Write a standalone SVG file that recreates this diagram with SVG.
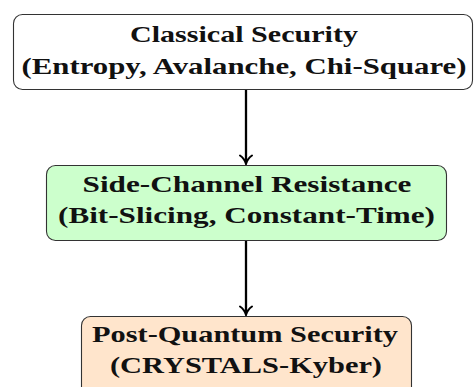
<svg xmlns="http://www.w3.org/2000/svg" width="475" height="387" viewBox="0 0 475 387">
<style>
.box{stroke:#333;stroke-width:1.1}
.t{font-family:"Liberation Serif","DejaVu Serif",serif;font-weight:bold;font-size:23px;fill:#111;text-anchor:middle}
.c{stroke:#000;stroke-width:2.3;fill:none}
.h{stroke:#000;stroke-width:2;fill:none;stroke-linecap:round}
</style>
<g id="connectors">
<path class="c" d="M246,90 V163"/>
<path class="h" d="M240,155.5 Q244.5,158.5 246,164 Q247.5,158.5 252,155.5"/>
<path class="c" d="M246,241 V314"/>
<path class="h" d="M240,306.5 Q244.5,309.5 246,315 Q247.5,309.5 252,306.5"/>
</g>
<g id="node-classical">
<rect class="box" x="13.5" y="14.5" width="459" height="75" rx="9" fill="#ffffff"/>
<text class="t" x="244" y="42" textLength="228" lengthAdjust="spacingAndGlyphs">Classical Security</text>
<text class="t" x="244" y="74" textLength="445" lengthAdjust="spacingAndGlyphs">(Entropy, Avalanche, Chi-Square)</text>
</g>
<g id="node-sidechannel">
<rect class="box" x="46.5" y="165.5" width="400" height="75" rx="9" fill="#ccffcc"/>
<text class="t" x="247" y="192" textLength="329" lengthAdjust="spacingAndGlyphs">Side-Channel Resistance</text>
<text class="t" x="246.5" y="223" textLength="377" lengthAdjust="spacingAndGlyphs">(Bit-Slicing, Constant-Time)</text>
</g>
<g id="node-postquantum">
<rect class="box" x="81.5" y="316.5" width="330" height="85" rx="9" fill="#ffe5cc"/>
<text class="t" x="245" y="342" textLength="306" lengthAdjust="spacingAndGlyphs">Post-Quantum Security</text>
<text class="t" x="246" y="373" textLength="272" lengthAdjust="spacingAndGlyphs">(CRYSTALS-Kyber)</text>
</g>
</svg>
